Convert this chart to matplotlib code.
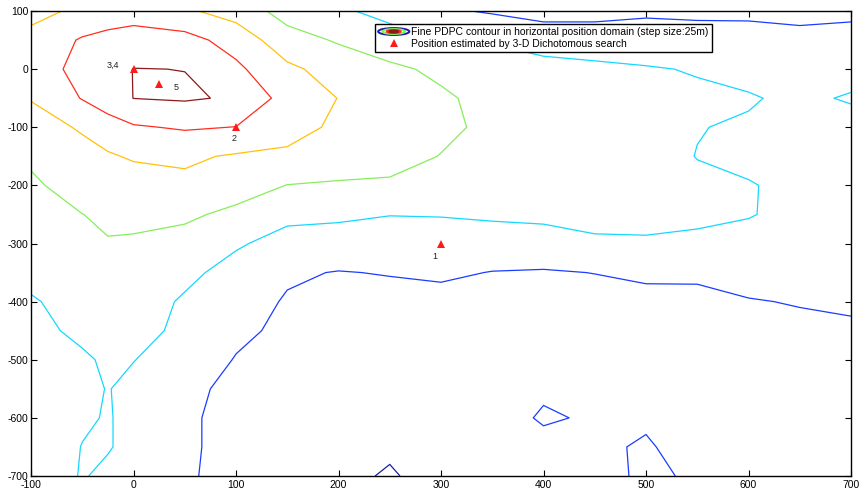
import numpy as np
import matplotlib
matplotlib.use("Agg")
import matplotlib.pyplot as plt
from matplotlib.patches import Ellipse
from matplotlib.lines import Line2D
from matplotlib.legend_handler import HandlerBase

plt.rcParams["font.family"] = ["Liberation Sans", "DejaVu Sans"]
plt.rcParams["axes.unicode_minus"] = False

# grid of the fine PDPC search (x: east, y: north)
x_grid = [-100, -50, -25, 0, 50, 100, 150, 200, 250, 300, 350, 400, 450, 500, 550, 600, 650, 700]
y_grid = [100, 50, 0, -50, -100, -150, -200, -250, -300, -350, -400, -450, -500, -550, -600, -650, -700]
pdpc = [
    [4.7, 5.2, 5.45, 5.6, 5.15, 4.6, 3.6, 3.15, 2.7, 2.15, 1.9, 1.85, 1.85, 1.92, 1.88, 1.87, 1.8, 1.85],
    [5.3, 6.1, 6.3, 6.4, 6.35, 5.6, 4.4, 3.9, 3.4, 2.95, 2.9, 2.25, 2.25, 2.25, 2.25, 2.25, 2.2, 2.25],
    [5.75, 6.15, 6.6, 7.02, 6.99, 6.2, 5.2, 4.6, 4.2, 3.8, 3.6, 3.6, 3.3, 3.1, 2.92, 2.7, 2.6, 2.6],
    [5.05, 6.05, 6.6, 7.01, 7.1, 6.9, 5.6, 4.98, 4.5, 4.15, 3.7, 3.55, 3.45, 3.4, 3.2, 3.08, 2.8, 3.1],
    [4.6, 5.1, 5.5, 5.9, 6.1, 5.98, 5.4, 4.8, 4.4, 4.15, 3.85, 3.6, 3.5, 3.4, 3.03, 2.9, 2.7, 2.6],
    [4.15, 4.7, 4.9, 5.1, 5.15, 4.9, 4.8, 4.5, 4.25, 3.98, 3.7, 3.55, 3.45, 3.3, 2.98, 2.8, 2.65, 2.6],
    [3.85, 4.4, 4.5, 4.55, 4.8, 4.4, 3.98, 3.9, 3.9, 3.85, 3.6, 3.5, 3.4, 3.3, 3.15, 3.05, 2.8, 2.6],
    [3.6, 3.99, 4.15, 4.2, 4.15, 3.8, 3.1, 3.07, 3.01, 3.02, 3.06, 3.1, 3.2, 3.2, 3.15, 3.05, 2.75, 2.6],
    [3.3, 3.7, 3.95, 3.9, 3.7, 3.05, 2.85, 2.82, 2.8, 2.8, 2.8, 2.8, 2.9, 2.92, 2.85, 2.7, 2.6, 2.55],
    [3.15, 3.4, 3.45, 3.4, 3.1, 2.85, 2.15, 1.95, 2.06, 2.2, 1.96, 1.9, 2.02, 2.25, 2.2, 2.35, 2.4, 2.45],
    [2.95, 3.2, 3.25, 3.2, 2.95, 2.5, 1.9, 1.6, 1.6, 1.6, 1.65, 1.65, 1.6, 1.6, 1.7, 1.95, 2.05, 2.15],
    [2.8, 3.15, 3.2, 3.15, 2.9, 2.2, 1.8, 1.5, 1.5, 1.5, 1.55, 1.55, 1.55, 1.55, 1.6, 1.65, 1.8, 1.85],
    [2.6, 2.9, 3.1, 3.02, 2.6, 1.95, 1.6, 1.45, 1.45, 1.45, 1.5, 1.5, 1.5, 1.5, 1.5, 1.55, 1.6, 1.65],
    [2.5, 2.8, 3.03, 2.8, 2.3, 1.7, 1.4, 1.3, 1.3, 1.35, 1.4, 1.8, 1.55, 1.6, 1.5, 1.5, 1.55, 1.6],
    [2.4, 2.9, 3.05, 2.8, 2.2, 1.6, 1.35, 1.25, 1.25, 1.3, 1.4, 2.15, 1.85, 1.8, 1.5, 1.45, 1.5, 1.55],
    [2.45, 3.02, 3.05, 2.8, 2.2, 1.6, 1.3, 1.2, 1.15, 1.25, 1.35, 1.6, 1.75, 2.15, 1.4, 1.45, 1.45, 1.5],
    [2.5, 3.05, 2.85, 2.6, 2.15, 1.6, 1.3, 1.25, 0.9, 1.4, 1.35, 1.5, 1.6, 2.2, 1.85, 1.6, 1.45, 1.45],
]
levels = [1, 2, 3, 4, 5, 6, 7]
level_colors = ["#1c1ca6", "#1a3cff", "#14d8ff", "#86ee5a", "#ffc10a", "#ff2d1e", "#8b1a1a"]

# positions found by the 3-D dichotomous search
est_x = [300, 100, 0, 25]
est_y = [-300, -100, 0, -25]
est_labels = ["1", "2", "3,4", "5"]


class HandlerRings(HandlerBase):
    def create_artists(self, legend, orig, xdescent, ydescent, width, height, fontsize, trans):
        cx = width / 2 - xdescent
        cy = height / 2 - ydescent
        rings = []
        for scale, col in [(1.0, "#1c1ca6"), (0.72, "#86ee5a"), (0.45, "#ff2d1e"), (0.28, "#8b1a1a")]:
            e = Ellipse((cx, cy), width * scale, height * 0.95 * scale, fill=False,
                        edgecolor=col, linewidth=1.4, transform=trans)
            rings.append(e)
        return rings


fig = plt.figure(figsize=(8.59, 4.92), dpi=100)
ax = fig.add_axes([0.0361, 0.0325, 0.9546, 0.9451])

X, Y = np.meshgrid(x_grid, y_grid)
ax.contour(X, Y, np.array(pdpc), levels=levels, colors=level_colors, linewidths=0.9)

ax.plot(est_x, est_y, "^", color="#ff1a1a", markersize=6, markeredgewidth=0, zorder=5)
offsets = {"1": (-8, -22), "2": (-4, -20), "3,4": (-26, 6), "5": (14, -6)}
for xv, yv, lab in zip(est_x, est_y, est_labels):
    dx, dy = offsets[lab]
    ax.text(xv + dx, yv + dy, lab, fontsize=6.5, ha="left", va="center", color="#222222")

ax.set_xlim(-100, 700)
ax.set_ylim(-700, 100)
ax.set_xticks(range(-100, 701, 100))
ax.set_yticks(range(-700, 101, 100))
ax.tick_params(direction="in", top=True, right=True, labelsize=7.5, length=4, width=0.8, pad=2)
ax.tick_params(axis="x", pad=3)
for sp in ax.spines.values():
    sp.set_linewidth(1.0)

contour_proxy = Line2D([], [], color="#1c1ca6")
tri_proxy = Line2D([], [], marker="^", color="#ff1a1a", linestyle="none", markersize=6, markeredgewidth=0)
leg = ax.legend([contour_proxy, tri_proxy],
                ["Fine PDPC contour in horizontal position domain (step size:25m)",
                 "Position estimated by 3-D Dichotomous search"],
                handler_map={contour_proxy: HandlerRings()},
                loc="upper left", bbox_to_anchor=(0.4195, 0.972), fontsize=7.5,
                frameon=True, fancybox=False, framealpha=1, edgecolor="black",
                borderpad=0.3, labelspacing=0.15, handlelength=3.0, handletextpad=0.2,
                borderaxespad=0)
leg.get_frame().set_linewidth(1.0)

fig.savefig("out.png", dpi=100)
